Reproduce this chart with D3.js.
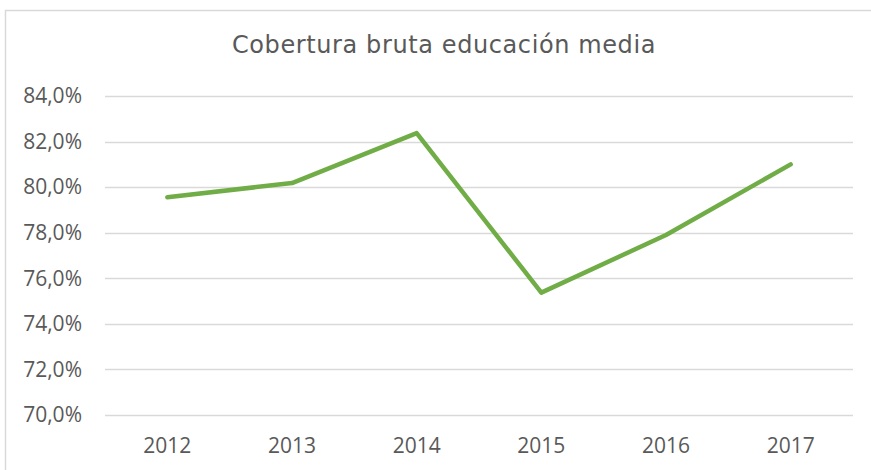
<!DOCTYPE html>
<html>
<head>
<meta charset="utf-8">
<script src="https://cdn.jsdelivr.net/npm/d3@7"></script>
<style>
  html, body { margin: 0; padding: 0; background: #fff; }
  svg { display: block; }
</style>
</head>
<body>
<svg id="chart"></svg>
<script>
// chart data
const years = ["2012", "2013", "2014", "2015", "2016", "2017"];
const coverage = [79.56, 80.18, 82.37, 75.37, 77.9, 81.0];
const yTicks = [70, 72, 74, 76, 78, 80, 82, 84];
const title = "Cobertura bruta educación media";

const width = 871;
const height = 470;
const margin = { top: 96, left: 105 };
const plotWidth = 748;
const plotHeight = 319;

const colors = {
  line: "#70AD47",
  grid: "#D9D9D9",
  text: "#595959",
  border: "#D9D9D9"
};
const labelFont = "'Open Sans', sans-serif";

const svg = d3.select("#chart")
  .attr("width", width)
  .attr("height", height);

// outer chart border (runs off the right and bottom edge)
svg.append("rect")
  .attr("x", 5.5)
  .attr("y", 10.5)
  .attr("width", width + 20)
  .attr("height", height + 20)
  .attr("fill", "#fff")
  .attr("stroke", colors.border)
  .attr("stroke-width", 1.5);

const g = svg.append("g")
  .attr("transform", `translate(${margin.left}, ${margin.top})`);

const x = d3.scaleBand()
  .domain(years)
  .range([0, plotWidth]);

const y = d3.scaleLinear()
  .domain([70, 84])
  .range([plotHeight, 0]);

// gridlines
g.append("g")
  .selectAll("line")
  .data(yTicks)
  .enter()
  .append("line")
  .attr("x1", 0)
  .attr("x2", plotWidth)
  .attr("y1", d => Math.round(y(d)) + 0.5)
  .attr("y2", d => Math.round(y(d)) + 0.5)
  .attr("stroke", colors.grid)
  .attr("stroke-width", 1.5);

// y axis labels
const yAxis = d3.axisLeft(y)
  .tickValues(yTicks)
  .tickSize(0)
  .tickPadding(23)
  .tickFormat(d => d3.format(".1f")(d).replace(".", ",") + "%");

const yAxisG = g.append("g").call(yAxis);
yAxisG.select(".domain").remove();
yAxisG.selectAll("text")
  .attr("fill", colors.text)
  .style("font-family", labelFont)
  .style("font-size", "21px");

// x axis labels
const xAxis = d3.axisBottom(x)
  .tickSize(0)
  .tickPadding(23);

const xAxisG = g.append("g")
  .attr("transform", `translate(0, ${plotHeight})`)
  .call(xAxis);
xAxisG.select(".domain").remove();
xAxisG.selectAll("text")
  .attr("fill", colors.text)
  .style("font-family", labelFont)
  .style("font-size", "21px");

// series line
const line = d3.line()
  .x((d, i) => x(years[i]) + x.bandwidth() / 2)
  .y(d => y(d));

g.append("path")
  .datum(coverage)
  .attr("d", line)
  .attr("fill", "none")
  .attr("stroke", colors.line)
  .attr("stroke-width", 4.5)
  .attr("stroke-linecap", "round")
  .attr("stroke-linejoin", "round");

// title
svg.append("text")
  .attr("x", 444)
  .attr("y", 53)
  .attr("text-anchor", "middle")
  .attr("fill", colors.text)
  .style("font-family", "'DejaVu Sans', sans-serif")
  .style("font-size", "24px")
  .style("letter-spacing", "0.6px")
  .text(title);
</script>
</body>
</html>
